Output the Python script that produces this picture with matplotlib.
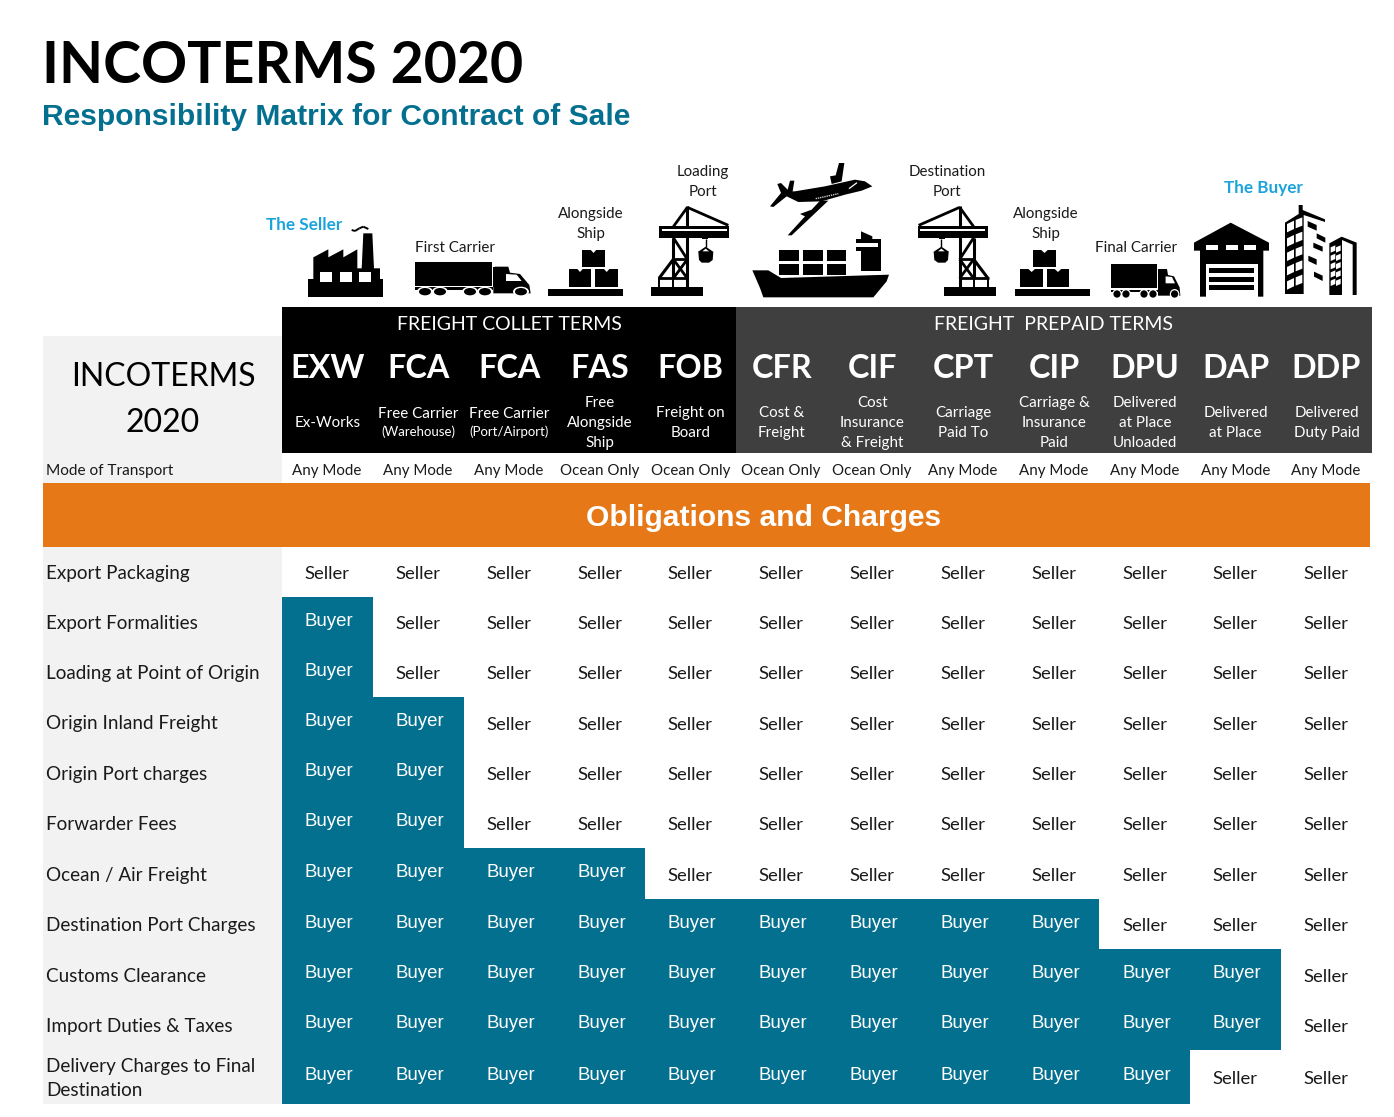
# -*- coding: utf-8 -*-
#%% libraries
import matplotlib
matplotlib.use('Agg')
import matplotlib.pyplot as plt
from matplotlib.patches import Rectangle, Polygon, Ellipse

#%% data
term_codes = ['EXW', 'FCA', 'FCA', 'FAS', 'FOB', 'CFR', 'CIF', 'CPT', 'CIP', 'DPU', 'DAP', 'DDP']
term_names = ['Ex-Works', 'Free Carrier\n(Warehouse)', 'Free Carrier\n(Port/Airport)',
              'Free\nAlongside\nShip', 'Freight on\nBoard', 'Cost &\nFreight',
              'Cost\nInsurance\n& Freight', 'Carriage\nPaid To', 'Carriage &\nInsurance\nPaid',
              'Delivered\nat Place\nUnloaded', 'Delivered\nat Place', 'Delivered\nDuty Paid']
transport_modes = ['Any Mode', 'Any Mode', 'Any Mode', 'Ocean Only', 'Ocean Only', 'Ocean Only',
                   'Ocean Only', 'Any Mode', 'Any Mode', 'Any Mode', 'Any Mode', 'Any Mode']
row_labels = ['Export Packaging', 'Export Formalities', 'Loading at Point of Origin',
              'Origin Inland Freight', 'Origin Port charges', 'Forwarder Fees',
              'Ocean / Air Freight', 'Destination Port Charges', 'Customs Clearance',
              'Import Duties & Taxes', 'Delivery Charges to Final\nDestination']
#how many terms from the left have the buyer paying, per row
buyer_terms = [0, 1, 1, 2, 2, 2, 4, 9, 11, 11, 10]

#%% layout (pixels of the picture)
BLUE = '#04708f'
ORANGE = '#e67817'
DARK = '#3f3f3f'
PANEL = '#f2f2f2'
CYAN = '#1ba3dc'
TEXT = '#1a1a1a'
LATO = 'Lato'
ARIAL = 'Liberation Sans'

col_left = 282
col_w = 90.83
row_edges = [547, 597, 647, 697, 748, 798, 848, 899, 949, 1000, 1050, 1104]

fig = plt.figure(figsize=(13.94, 11.17), dpi=100)
ax = fig.add_axes([0, 0, 1, 1])
ax.set_xlim(0, 1394)
ax.set_ylim(1117, 0)
ax.axis('off')


def rect(x0, y0, x1, y1, color='black', z=2):
    ax.add_patch(Rectangle((x0, y0), x1 - x0, y1 - y0, fc=color, ec='none', zorder=z))


def put(x, y, s, size, color=TEXT, family=LATO, weight='normal', ha='center', ls=1.2):
    ax.text(x, y, s, fontsize=size, color=color, family=family, fontweight=weight,
            ha=ha, va='center', linespacing=ls, zorder=6)


#%% icons, drawn from outlines read off a zoomed view
class Icon:
    def __init__(self, ox, oy, sx=3, sy=3, mirror=None):
        self.ox, self.oy, self.sx, self.sy, self.mirror = ox, oy, sx, sy, mirror

    def pt(self, x, y):
        px = self.ox + x / self.sx
        if self.mirror is not None:
            px = self.mirror - px
        return px, self.oy + y / self.sy

    def poly(self, pts, color='black', z=3):
        ax.add_patch(Polygon([self.pt(*p) for p in pts], closed=True, fc=color, ec='none', zorder=z))

    def box(self, x0, y0, x1, y1, color='black', z=3):
        self.poly([(x0, y0), (x1, y0), (x1, y1), (x0, y1)], color, z)

    def line(self, x0, y0, x1, y1, lw=2.0, color='black', z=3, ls='-'):
        a, b = self.pt(x0, y0), self.pt(x1, y1)
        ax.plot([a[0], b[0]], [a[1], b[1]], color=color, lw=lw, ls=ls, solid_capstyle='butt', zorder=z)

    def oval(self, x, y, rx, ry, color='black', z=4):
        cx, cy = self.pt(x, y)
        ax.add_patch(Ellipse((cx, cy), 2 * rx / self.sx, 2 * ry / self.sy, fc=color, ec='none', zorder=z))


def draw_factory():
    ic = Icon(260, 150)
    ic.box(144, 388, 368, 440)
    ic.poly([(160, 388), (160, 322), (205, 298), (205, 322), (250, 298), (250, 322), (292, 298),
             (292, 355), (305, 355), (310, 250), (337, 250), (342, 355), (360, 355), (360, 388)])
    for x in (180, 240, 298):
        ic.box(x, 365, x + 35, 395, 'white', 4)
    xs = [275, 285, 298, 310, 325]
    ys = [240, 243, 235, 230, 237]
    for i in range(4):
        ic.line(xs[i], ys[i], xs[i + 1], ys[i + 1], lw=1.4)


def draw_truck(ox, oy, sx, sy):
    ic = Icon(ox, oy, sx, sy)
    ic.box(465, 335, 697, 408)
    ic.box(465, 412, 700, 420)
    ic.poly([(705, 350), (745, 350), (750, 368), (780, 372), (808, 405), (812, 430), (700, 430), (700, 410)])
    ic.poly([(738, 372), (770, 374), (785, 393), (738, 393)], 'white', 4)
    ic.box(700, 350, 706, 412)
    for x in (495, 540, 630, 675, 783):
        ic.oval(x, 425, 24, 15, 'white', 4)
        ic.oval(x, 425, 18, 11, 'black', 5)


def draw_pallet(ic, bx0, bx1, b1, b2, b3):
    ic.box(bx0, 417, bx1, 438)
    for x0, x1, y0, y1 in ((b1[0], b1[1], 357, 410), (b2[0], b2[1], 357, 410), (b3[0], b3[1], 300, 350)):
        ic.box(x0, y0, x1, y1)
        mid = (x0 + x1) / 2
        ic.poly([(mid - 8, y0), (mid + 8, y0), (mid, y0 + 9)], 'white', 4)


def draw_crane(mirror=None):
    ic = Icon(645, 200, mirror=mirror)
    ic.box(18, 260, 175, 287)
    ic.box(42, 78, 252, 113)
    ic.box(50, 88, 245, 94, 'white', 4)
    #jib stays
    ic.line(127, 22, 250, 76)
    ic.line(127, 22, 85, 80)
    #mast
    ic.line(127, 18, 127, 260, lw=2.2)
    ic.line(85, 113, 85, 235, lw=2.2)
    ic.line(85, 113, 127, 178)
    ic.line(85, 178, 127, 178)
    ic.line(85, 178, 42, 235, lw=2.2)
    ic.line(85, 178, 127, 235)
    ic.line(127, 178, 85, 235)
    ic.line(40, 235, 130, 235)
    for x in (42, 85, 127):
        ic.line(x, 235, x, 260, lw=1.4)
    #hook block
    ic.box(172, 100, 190, 118)
    ic.line(182, 118, 182, 142, lw=1.0)
    ic.poly([(182, 140), (158, 156), (206, 156)])
    ic.poly([(182, 146), (172, 154), (192, 154)], 'white', 4)
    ic.poly([(160, 156), (205, 156), (203, 180), (192, 188), (170, 188), (162, 180)])


def draw_plane_ship():
    ic = Icon(745, 158)
    #plane
    ic.poly([(110, 100), (150, 100), (240, 85), (330, 65), (360, 70), (382, 85), (350, 98),
             (300, 110), (230, 130), (160, 132), (125, 115)])
    ic.poly([(255, 55), (272, 52), (282, 15), (298, 15), (290, 70), (260, 78)])
    ic.poly([(128, 232), (180, 175), (165, 168), (200, 155), (225, 128), (250, 128), (195, 180), (140, 232)])
    ic.poly([(75, 145), (108, 105), (97, 78), (108, 75), (128, 95), (135, 68), (148, 68), (143, 100),
             (125, 115), (85, 147)])
    ic.line(212, 122, 280, 107, lw=1.0, color='#cccccc', z=4, ls=(0, (1, 0.6)))
    ic.line(312, 92, 336, 74, lw=0.9, color='white', z=4)
    #ship
    ic.poly([(22, 337), (70, 337), (108, 360), (432, 350), (425, 370), (385, 418), (55, 418), (45, 390)])
    for x0, x1 in ((103, 162), (174, 233), (245, 304)):
        ic.box(x0, 275, x1, 308)
        ic.box(x0, 318, x1, 350)
    ic.poly([(334, 243), (408, 243), (408, 338), (348, 338), (348, 280), (334, 280)])
    ic.poly([(348, 220), (382, 235), (382, 245), (348, 245)])
    ic.box(334, 256, 398, 266, 'white', 4)


def draw_warehouse():
    ic = Icon(1190, 200)
    ic.poly([(12, 128), (122, 68), (237, 128), (237, 152), (220, 152), (220, 290), (30, 290),
             (30, 152), (12, 152)])
    for x in (48, 107, 162):
        ic.box(x, 135, x + 36, 150, 'white', 4)
    ic.box(48, 193, 205, 290, 'white', 4)
    for y in (203, 230, 255):
        ic.box(57, y, 192, y + 16, 'black', 5)


def draw_buildings():
    ic = Icon(1190, 200)
    #tall block
    ic.poly([(285, 68), (326, 42), (326, 15), (338, 15), (338, 30), (405, 58), (405, 66), (341, 45),
             (341, 282), (285, 282)])
    for k in range(5):
        ic.poly([(291, 72 + 43 * k), (312, 62 + 43 * k), (312, 87 + 43 * k), (291, 97 + 43 * k)], 'white', 4)
        ic.poly([(317, 60 + 43 * k), (337, 52 + 43 * k), (337, 77 + 43 * k), (317, 85 + 43 * k)], 'white', 4)
    ic.poly([(353, 63), (380, 75), (380, 92), (353, 80)])
    ic.poly([(380, 100), (406, 113), (406, 128), (380, 115)])
    ic.poly([(370, 128), (398, 140), (398, 155), (370, 143)])
    ic.poly([(355, 167), (380, 178), (380, 195), (355, 183)])
    ic.poly([(372, 215), (398, 227), (398, 243), (372, 230)])
    #low block
    ic.poly([(418, 130), (455, 110), (500, 128), (500, 285), (488, 285), (488, 134), (456, 120),
             (456, 285), (418, 285)])
    for k in range(5):
        for x in (422, 438):
            ic.poly([(x, 142 + 25 * k), (x + 14, 136 + 25 * k), (x + 14, 152 + 25 * k), (x, 158 + 25 * k)],
                    'white', 4)


#%% header
put(42, 66.5, 'INCOTERMS 2020', 41.2, color='black', weight='bold', ha='left')
put(42, 117, 'Responsibility Matrix for Contract of Sale', 21.6, color=BLUE, family=ARIAL,
    weight='bold', ha='left')

#icons and captions above the table
draw_factory()
draw_truck(260, 150, 3, 3)
draw_pallet(Icon(260, 150), 864, 1089, (927, 993), (1006, 1074), (966, 1035))
draw_crane()
draw_plane_ship()
draw_crane(mirror=1647)
draw_pallet(Icon(740, 150, 2.45, 3), 674, 857, (687, 742), (752, 806), (718, 774))
draw_truck(1111 - 465 / 5.0, 264 - 335 / 3.0, 5.0, 3.0)
draw_warehouse()
draw_buildings()

put(304, 225, 'The Seller', 12.3, color=CYAN, weight='bold')
put(1263, 188, 'The Buyer', 12.3, color=CYAN, weight='bold')
put(455, 248, 'First Carrier', 10.9)
put(591, 224, 'Alongside\nShip', 10.9, ls=1.6)
put(703, 182, 'Loading\nPort', 10.9, ls=1.6)
put(947, 182, 'Destination\nPort', 10.9, ls=1.6)
put(1046, 224, 'Alongside\nShip', 10.9, ls=1.6)
put(1136, 248, 'Final Carrier', 10.9)

#%% table head
rect(43, 336, col_left, 483, PANEL, 1)
rect(43, 547, col_left, 1104, PANEL, 1)
rect(col_left, 307, 736, 453, 'black')
rect(736, 307, 1372, 453, DARK)
rect(43, 483, 1370, 547, ORANGE)

put(163, 377.5, 'INCOTERMS', 23, color='black')
put(163, 422.5, '2020', 23, color='black')
put(46, 471, 'Mode of Transport', 11.1, ha='left')
put(509, 325, 'FREIGHT COLLET TERMS', 14, color='white')
put(1054, 325, 'FREIGHT  PREPAID TERMS', 14, color='white')
put(763.5, 518, 'Obligations and Charges', 21.6, color='white', family=ARIAL, weight='bold')

for i, code in enumerate(term_codes):
    cx = col_left + col_w * (i + 0.5)
    put(cx, 369, code, 23.3, color='white', weight='bold')
    name = term_names[i]
    #the small bracket lines sit under the Free Carrier names
    if '(' in name:
        first, second = name.split('\n')
        put(cx, 413.5, first, 10.9, color='white')
        put(cx, 432, second, 9.5, color='white')
    else:
        put(cx, 423, name, 10.9, color='white', ls=1.55)
    put(cx - 0.5, 471, transport_modes[i], 10.9)

#%% obligations matrix
for r, label in enumerate(row_labels):
    y0, y1 = row_edges[r], row_edges[r + 1]
    cy = (y0 + y1) / 2 - 0.5
    put(46, cy + 2, label, 13.55, ha='left', ls=1.5)
    for c in range(len(term_codes)):
        cx = col_left + col_w * (c + 0.5)
        if c < buyer_terms[r]:
            rect(col_left + col_w * c, y0, col_left + col_w * (c + 1), y1, BLUE)
            put(cx + 1.5, cy - 0.5, 'Buyer', 13.4, color='white', family=ARIAL)
        else:
            put(cx - 0.3, cy + 2.7, 'Seller', 13.3)

fig.savefig('out.png', dpi=100)
